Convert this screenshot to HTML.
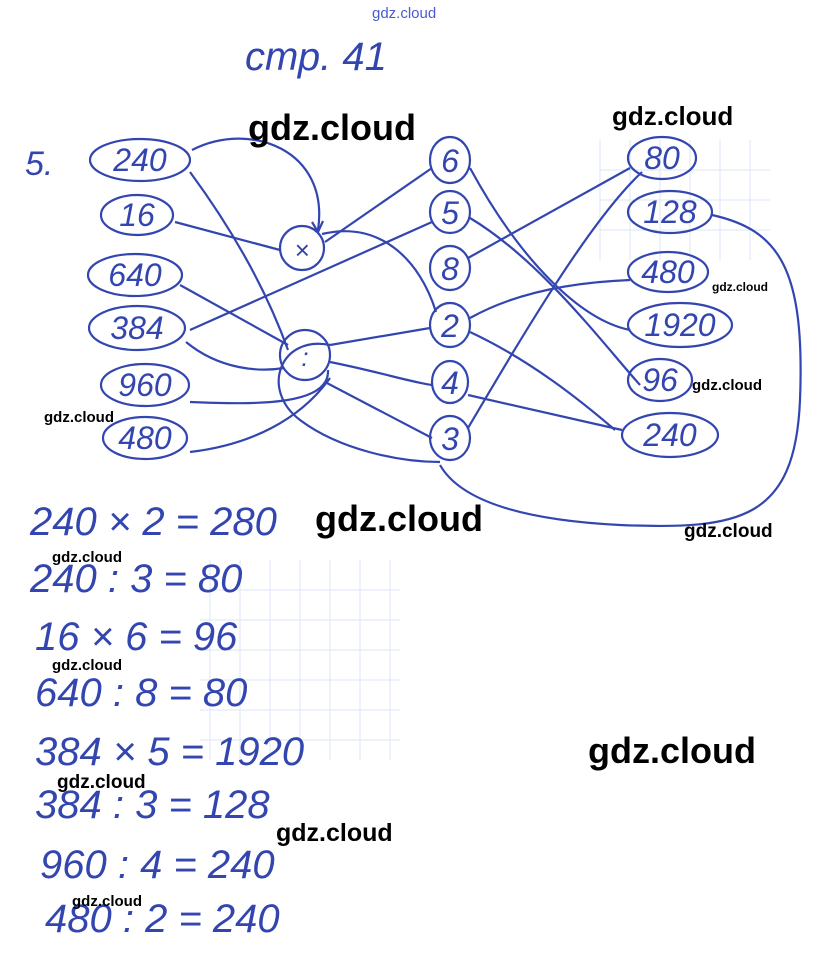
<!DOCTYPE html>
<html><head><meta charset="utf-8"><style>
html,body{margin:0;padding:0;background:#fff;}
svg{display:block}
.h{font-family:"Liberation Sans",sans-serif;font-style:italic;fill:#3346b0;}
.w{font-family:"Liberation Sans",sans-serif;font-weight:bold;fill:#000;}
</style></head><body>
<svg width="820" height="958" viewBox="0 0 820 958" xmlns="http://www.w3.org/2000/svg">
<g stroke="#dde6f5" stroke-width="1" fill="none">
<path d="M600 140v120M630 140v120M660 140v120M690 140v120M720 140v120M750 140v120M600 170h170M600 200h170M600 230h170"/>
<path d="M210 560v200M240 560v200M270 560v200M300 560v200M330 560v200M360 560v200M390 560v200M200 590h200M200 620h200M200 650h200M200 680h200M200 710h200M200 740h200"/>
</g>
<text x="372" y="18" font-size="15" font-family="Liberation Sans,sans-serif" fill="#4a5ad0">gdz.cloud</text>
<text x="245" y="70" class="h" font-size="40">стр. 41</text>
<text x="25" y="175" class="h" font-size="34">5.</text>
<g fill="none" stroke="#3346b0" stroke-width="2.2">
<ellipse cx="140" cy="160" rx="50" ry="21"/>
<ellipse cx="137" cy="215" rx="36" ry="20"/>
<ellipse cx="135" cy="275" rx="47" ry="21"/>
<ellipse cx="137" cy="328" rx="48" ry="22"/>
<ellipse cx="145" cy="385" rx="44" ry="21"/>
<ellipse cx="145" cy="438" rx="42" ry="21"/>
<circle cx="302" cy="248" r="22"/>
<circle cx="305" cy="355" r="25"/>
<ellipse cx="450" cy="160" rx="20" ry="23"/>
<ellipse cx="450" cy="212" rx="20" ry="21"/>
<ellipse cx="450" cy="268" rx="20" ry="22"/>
<ellipse cx="450" cy="325" rx="20" ry="22"/>
<ellipse cx="450" cy="382" rx="18" ry="21"/>
<ellipse cx="450" cy="438" rx="20" ry="22"/>
<ellipse cx="662" cy="158" rx="34" ry="21"/>
<ellipse cx="670" cy="212" rx="42" ry="21"/>
<ellipse cx="668" cy="272" rx="40" ry="20"/>
<ellipse cx="680" cy="325" rx="52" ry="22"/>
<ellipse cx="660" cy="380" rx="32" ry="21"/>
<ellipse cx="670" cy="435" rx="48" ry="22"/>
<path d="M192 150C250 120 330 150 318 230"/>
<path d="M312 222l6 10 5-11"/>
<path d="M190 172C240 240 270 300 288 350"/>
<path d="M175 222L280 250"/>
<path d="M325 242L432 168"/>
<path d="M322 234C380 220 420 260 436 312"/>
<path d="M180 285L288 345"/>
<path d="M190 330L432 222"/>
<path d="M186 342C220 370 260 372 284 368"/>
<path d="M328 370C330 405 260 405 190 402"/>
<path d="M330 378C300 420 250 445 190 452"/>
<path d="M330 345L430 328"/>
<path d="M330 362C380 372 410 382 432 385"/>
<path d="M325 382L432 438"/>
<path d="M330 345C280 335 260 390 300 420C340 450 400 462 440 462"/>
<path d="M712 215C780 230 805 270 800 400C795 520 740 530 620 525C520 520 460 500 440 465"/>
<path d="M470 168C520 260 580 320 630 330"/>
<path d="M470 218C540 260 600 340 640 385"/>
<path d="M468 258L630 168"/>
<path d="M470 318C520 290 580 282 630 280"/>
<path d="M470 332C530 360 580 400 615 430"/>
<path d="M468 395L622 430"/>
<path d="M468 428C520 340 590 220 642 172"/>
</g>
<g class="h" font-size="32" text-anchor="middle">
<text x="140" y="171">240</text><text x="137" y="226">16</text><text x="135" y="286">640</text>
<text x="137" y="339">384</text><text x="145" y="396">960</text><text x="145" y="449">480</text>
<text x="302" y="259" font-size="26">×</text><text x="305" y="366" font-size="26">:</text>
<text x="450" y="172">6</text><text x="450" y="224">5</text><text x="450" y="280">8</text>
<text x="450" y="337">2</text><text x="450" y="394">4</text><text x="450" y="450">3</text>
<text x="662" y="169">80</text><text x="670" y="223">128</text><text x="668" y="283">480</text>
<text x="680" y="336">1920</text><text x="660" y="391">96</text><text x="670" y="446">240</text>
</g>
<g class="h" font-size="40">
<text x="30" y="535">240 × 2 = 280</text>
<text x="30" y="592">240 : 3 = 80</text>
<text x="35" y="650">16 × 6 = 96</text>
<text x="35" y="706">640 : 8 = 80</text>
<text x="35" y="765">384 × 5 = 1920</text>
<text x="35" y="818">384 : 3 = 128</text>
<text x="40" y="878">960 : 4 = 240</text>
<text x="45" y="932">480 : 2 = 240</text>
</g>
<g class="w">
<text x="248" y="140" font-size="36">gdz.cloud</text>
<text x="612" y="125" font-size="26">gdz.cloud</text>
<text x="315" y="531" font-size="36">gdz.cloud</text>
<text x="588" y="763" font-size="36">gdz.cloud</text>
<text x="276" y="841" font-size="25">gdz.cloud</text>
<text x="684" y="537" font-size="19">gdz.cloud</text>
<text x="57" y="788" font-size="19">gdz.cloud</text>
<text x="52" y="562" font-size="15">gdz.cloud</text>
<text x="52" y="670" font-size="15">gdz.cloud</text>
<text x="44" y="422" font-size="15">gdz.cloud</text>
<text x="712" y="291" font-size="12">gdz.cloud</text>
<text x="692" y="390" font-size="15">gdz.cloud</text>
<text x="72" y="906" font-size="15">gdz.cloud</text>
</g>
</svg>
</body></html>
